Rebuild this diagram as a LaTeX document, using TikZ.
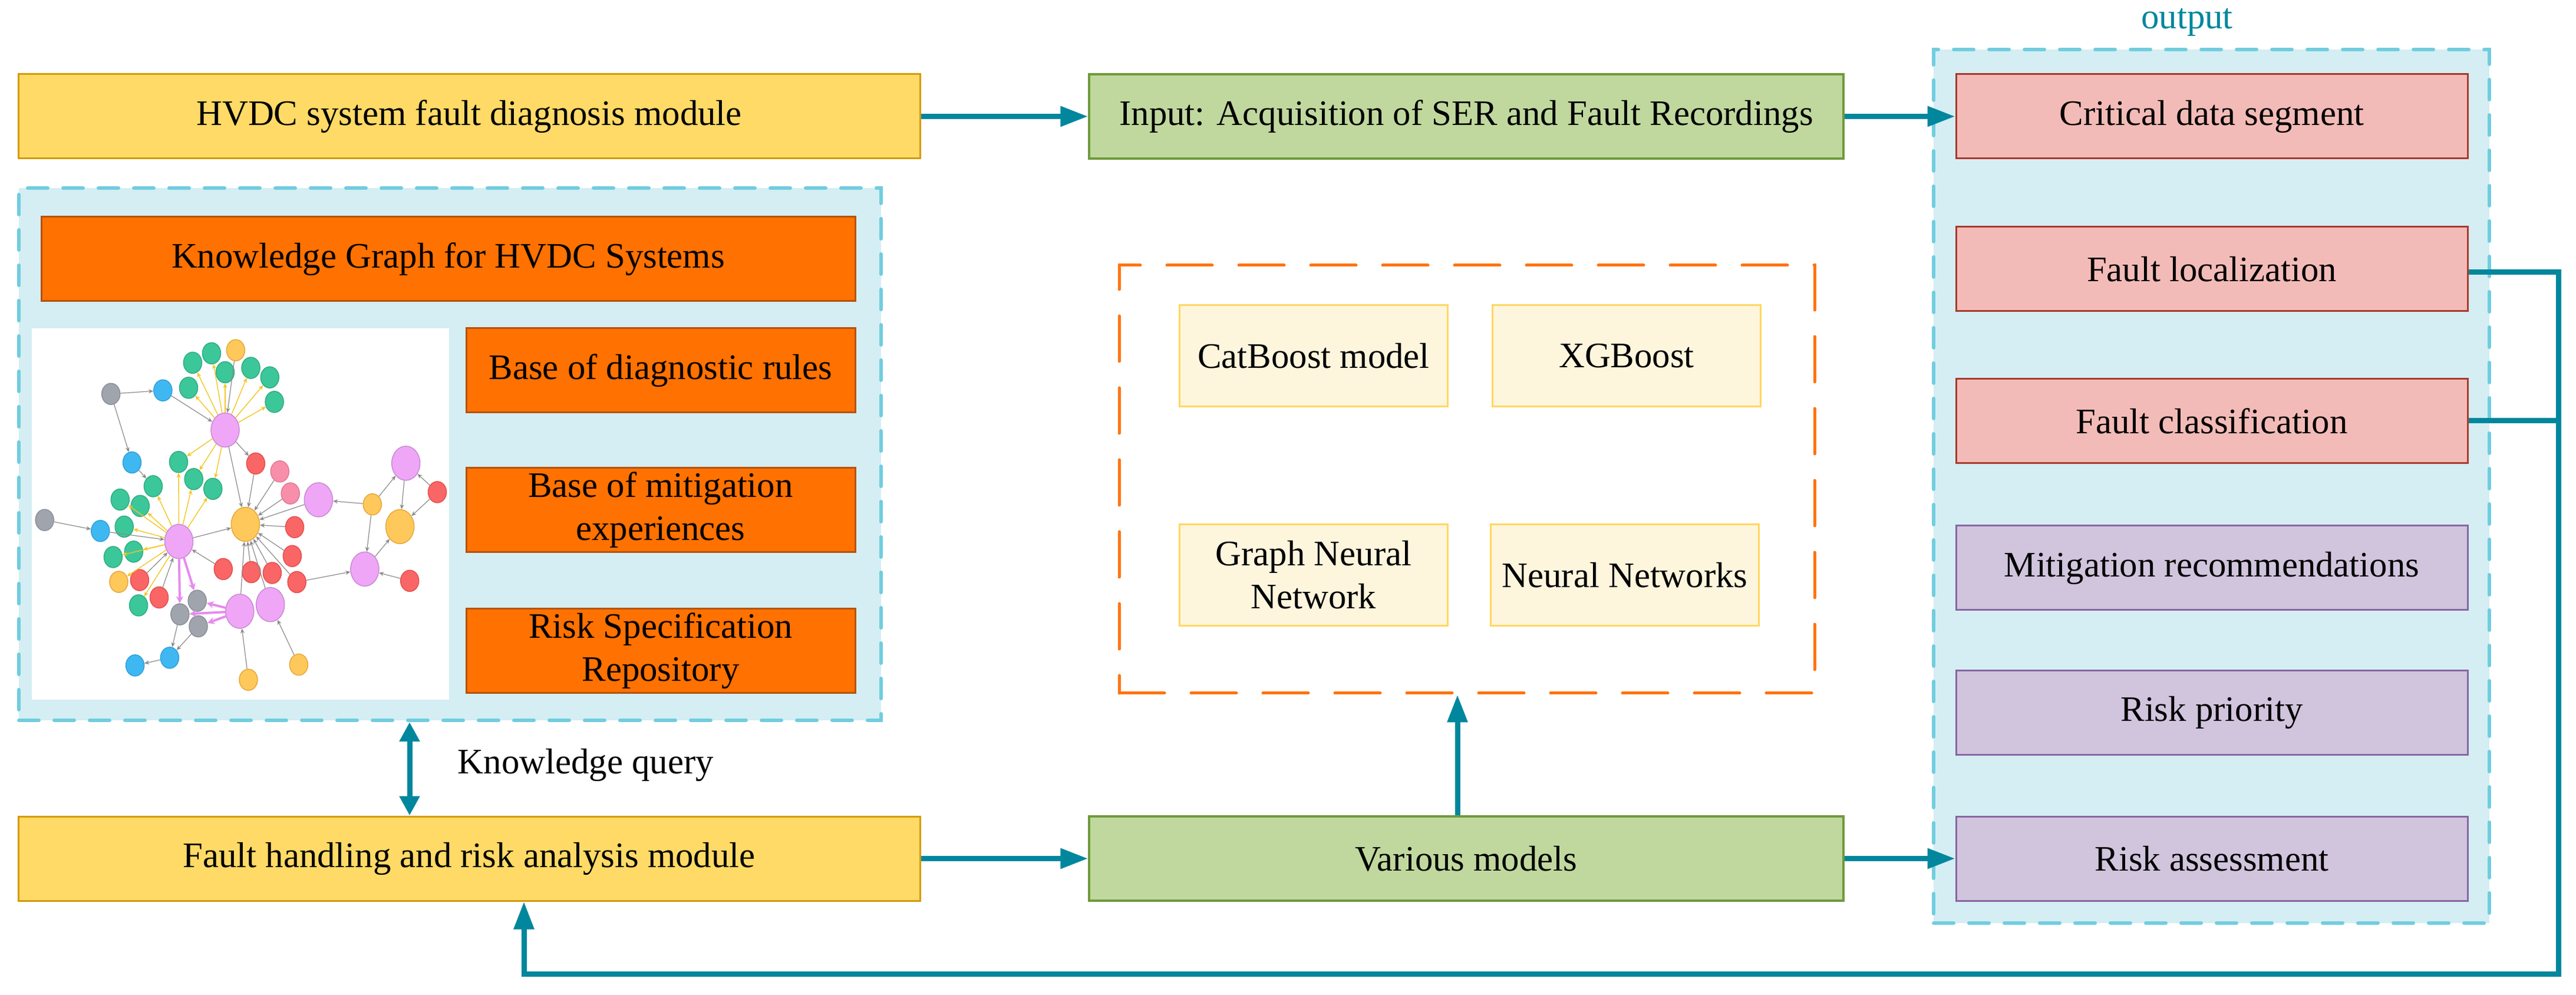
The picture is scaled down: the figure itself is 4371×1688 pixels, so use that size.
\documentclass[tikz,border=0pt]{standalone}
\usepackage{fontspec}
\setmainfont{Liberation Serif}
\usetikzlibrary{arrows.meta,shapes.geometric}
\definecolor{arrowc}{HTML}{00879D}
\definecolor{yfill}{HTML}{FFDA66}
\definecolor{ydraw}{HTML}{D39B0B}
\definecolor{gfill}{HTML}{C0D89E}
\definecolor{gdraw}{HTML}{6F9A3B}
\definecolor{kgfill}{HTML}{D4EEF3}
\definecolor{kgdash}{HTML}{71CDDF}
\definecolor{ofill}{HTML}{FF7100}
\definecolor{odraw}{HTML}{B5520E}
\definecolor{rfill}{HTML}{F3BBB7}
\definecolor{rdraw}{HTML}{A93A2E}
\definecolor{pfill}{HTML}{D1C4DD}
\definecolor{pdraw}{HTML}{8866A3}
\definecolor{mfill}{HTML}{FEF5DD}
\definecolor{mdraw}{HTML}{FFD75E}
\definecolor{odash}{HTML}{FF7410}
% graph colours
\definecolor{kgreen}{HTML}{3CC79A}
\definecolor{kgreenD}{HTML}{2FAE80}
\definecolor{korange}{HTML}{FFC85A}
\definecolor{korangeD}{HTML}{E6A83A}
\definecolor{kpinkn}{HTML}{EFA6F6}
\definecolor{kpinknD}{HTML}{C98AD5}
\definecolor{kblue}{HTML}{3FB8F2}
\definecolor{kblueD}{HTML}{2EA1DB}
\definecolor{kgrey}{HTML}{A0A4AC}
\definecolor{kgreyD}{HTML}{8B9098}
\definecolor{kred}{HTML}{FA6565}
\definecolor{kredD}{HTML}{E55050}
\definecolor{klpink}{HTML}{F78EAA}
\definecolor{klpinkD}{HTML}{E47796}
\definecolor{kedge}{HTML}{8A8A8A}
\definecolor{kyel}{HTML}{F3C623}
\definecolor{kpe}{HTML}{E78BEF}
\tikzset{
 box/.style={draw, line width=0.3mm, inner sep=0pt, align=center, font=\fontsize{17.3}{20.8}\selectfont, minimum height=14.3mm},
 ybox/.style={box, fill=yfill, draw=ydraw},
 gbox/.style={box, fill=gfill, draw=gdraw, line width=0.35mm},
 obox/.style={box, fill=ofill, draw=odraw},
 rbox/.style={box, fill=rfill, draw=rdraw, minimum width=86.8mm},
 pbox/.style={box, fill=pfill, draw=pdraw, minimum width=86.8mm},
 mbox/.style={box, fill=mfill, draw=mdraw, minimum width=45.5mm, minimum height=17.2mm},
 kgframe/.style={draw=kgdash, fill=kgfill, line width=0.6mm, dash pattern=on 3.4mm off 2.6mm, line cap=round, inner sep=0pt},
 oframe/.style={draw=odash, line width=0.5mm, dash pattern=on 7.7mm off 4.5mm, line cap=round, inner sep=0pt},
 conn/.style={draw=arrowc, line width=0.9mm, -{Triangle[length=4.7mm,width=3.3mm]}},
 dconn/.style={draw=arrowc, line width=0.9mm, {Triangle[length=3.3mm,width=3.3mm]}-{Triangle[length=3.3mm,width=3.3mm]}},
 plainc/.style={draw=arrowc, line width=0.9mm},
 lbl/.style={inner sep=0pt, font=\fontsize{17.3}{20.8}\selectfont},
 kn/.style={ellipse, inner sep=0pt, minimum width=3.1mm, minimum height=3.6mm, line width=0.15mm},
 kbig/.style={kn, minimum width=4.8mm, minimum height=5.8mm},
 cgr/.style={fill=kgreen, draw=kgreenD},
 cor/.style={fill=korange, draw=korangeD},
 cpk/.style={fill=kpinkn, draw=kpinknD},
 cbl/.style={fill=kblue, draw=kblueD},
 cgy/.style={fill=kgrey, draw=kgreyD},
 crd/.style={fill=kred, draw=kredD},
 clp/.style={fill=klpink, draw=klpinkD},
 ke/.style={draw=kedge, line width=0.12mm, -{Stealth[length=0.8mm,width=0.7mm]}},
 ky/.style={draw=kyel, line width=0.14mm, -{Stealth[length=0.8mm,width=0.7mm]}},
 kp/.style={draw=kpe, line width=0.4mm, -{Stealth[length=1.2mm,width=1.2mm]}},
}
\begin{document}
\begin{tikzpicture}[x=0.1mm, y=-0.1mm]
\useasboundingbox (0,0) rectangle (4371,1688);

% ---------- containers ----------
\node[kgframe, minimum width=146.3mm, minimum height=90.3mm] (kg) at (763.5,770.5) {};
\node[kgframe, minimum width=94.3mm, minimum height=148.2mm] (outf) at (3752.5,825) {};
\node[oframe, minimum width=118mm, minimum height=72.6mm] (models) at (2489,813) {};
\node[lbl, text=arrowc] (outlbl) at (3711,38) {output};

% ---------- main row boxes ----------
\node[ybox, minimum width=153mm] (hvdc) at (796,197.5) {HVDC system fault diagnosis module};
\node[gbox, minimum width=128mm] (input) at (2488,197.5) {Input: Acquisition of SER and Fault Recordings};
\node[ybox, minimum width=153mm] (fh) at (796,1456.5) {Fault handling and risk analysis module};
\node[gbox, minimum width=128mm] (various) at (2488,1456.5) {Various models};

% ---------- knowledge graph block ----------
\node[obox, minimum width=138.1mm] (kgt) at (760.5,439.5) {Knowledge Graph for HVDC Systems};
\node[fill=white, minimum width=70.8mm, minimum height=63mm, inner sep=0pt] (img) at (408,872) {};
\node[obox, minimum width=66mm] (diag) at (1121,628.5) {Base of diagnostic rules};
\node[obox, minimum width=66mm] (mitb) at (1121,865.5) {Base of mitigation\\experiences};
\node[obox, minimum width=66mm] (riskrep) at (1121,1104) {Risk Specification\\Repository};

% ---------- model boxes ----------
\node[mbox] (cat) at (2229,604) {CatBoost model};
\node[mbox] (xgb) at (2760,604) {XGBoost};
\node[mbox] (gnn) at (2229,975.5) {Graph Neural\\Network};
\node[mbox] (nn) at (2757,975.5) {Neural Networks};

% ---------- output boxes ----------
\node[rbox] (crit) at (3753,197.5) {Critical data segment};
\node[rbox] (floc) at (3753,456.5) {Fault localization};
\node[rbox] (fcls) at (3753,714) {Fault classification};
\node[pbox] (mrec) at (3753,963.5) {Mitigation recommendations};
\node[pbox] (rpri) at (3753,1208.5) {Risk priority};
\node[pbox] (rass) at (3753,1456.5) {Risk assessment};

% ---------- connectors ----------
\draw[conn] (hvdc.east) -- (input.west);
\draw[conn] (input.east) -- (crit.west);
\draw[conn] (fh.east) -- (various.west);
\draw[conn] (various.east) -- (rass.west);
\draw[conn] ([xshift=-1.5mm]various.north) -- ([xshift=-1.5mm]various.north |- models.south);
\coordinate (kq) at (695,0);
\draw[dconn] (kg.south -| kq) -- (fh.north -| kq);
\node[lbl, anchor=west] (kqt) at (776,1298) {Knowledge query};
\coordinate (fbR) at (4341,1652);
\coordinate (fbL) at (889,1652);
\draw[conn] ([yshift=-0.55mm]floc.east) -| (fbR) -- (fbL) -- (fh.south -| fbL);
\draw[plainc] (fcls.east) -- (fcls.east -| fbR);

% ---------- knowledge graph drawing ----------
\begin{scope}
\node[kn,cgr] (G1) at (326.9,615.4) {};
\node[kn,cgr] (G2) at (359.0,599.4) {};
\node[kn,cor] (O1) at (399.9,594.2) {};
\node[kn,cgr] (G3) at (382.0,631.5) {};
\node[kn,cgr] (G4) at (425.6,624.1) {};
\node[kn,cgr] (G5) at (457.8,640.2) {};
\node[kn,cgr] (G6) at (465.6,681.8) {};
\node[kn,cgr] (G7) at (320.0,657.9) {};
\node[kn,cgy] (Y1) at (188.2,668.3) {};
\node[kn,cbl] (B1) at (276.4,662.3) {};
\node[kbig,cpk] (P1) at (382.0,729.5) {};
\node[kn,cgr] (G8) at (303.0,783.7) {};
\node[kn,cgr] (G9) at (328.7,812.8) {};
\node[kn,cgr] (G10) at (361.3,829.3) {};
\node[kn,crd] (R1) at (433.9,786.3) {};
\node[kn,clp] (L1) at (474.8,799.8) {};
\node[kn,clp] (L2) at (492.7,837.1) {};
\node[kbig,cpk] (P2) at (540.4,847.9) {};
\node[kn,cor] (O2) at (631.8,855.7) {};
\node[kbig,cpk] (P3) at (688.7,785.9) {};
\node[kn,crd] (R2) at (742.0,834.9) {};
\node[kbig,cor] (O3) at (678.6,893.4) {};
\node[kn,cbl] (B2) at (224.0,784.6) {};
\node[kn,cgr] (G11) at (259.9,824.9) {};
\node[kn,cgr] (G12) at (203.8,847.5) {};
\node[kn,cgr] (G13) at (237.8,858.3) {};
\node[kn,cgr] (G14) at (210.7,893.4) {};
\node[kn,cgr] (G15) at (226.8,935.9) {};
\node[kn,cgr] (G16) at (191.9,945.0) {};
\node[kn,cgy] (Y2) at (75.7,882.2) {};
\node[kn,cbl] (B3) at (170.3,900.8) {};
\node[kbig,cpk] (P4) at (303.5,918.6) {};
\node[kbig,cor] (O4) at (416.4,889.5) {};
\node[kn,crd] (R3) at (500.0,894.3) {};
\node[kn,crd] (R4) at (495.9,943.3) {};
\node[kn,crd] (R5) at (378.8,965.4) {};
\node[kn,crd] (R6) at (426.5,970.6) {};
\node[kn,crd] (R7) at (461.9,972.0) {};
\node[kn,crd] (R8) at (503.7,987.5) {};
\node[kbig,cpk] (P5) at (618.9,965.4) {};
\node[kn,crd] (R9) at (695.2,985.4) {};
\node[kn,cor] (O5) at (201.5,987.1) {};
\node[kn,crd] (R10) at (236.9,984.1) {};
\node[kn,crd] (R11) at (270.0,1013.6) {};
\node[kn,cgr] (G17) at (235.1,1027.0) {};
\node[kn,cgy] (Y3) at (334.7,1019.2) {};
\node[kn,cgy] (Y4) at (305.3,1042.2) {};
\node[kn,cgy] (Y5) at (336.5,1062.6) {};
\node[kbig,cpk] (P6) at (406.8,1037.0) {};
\node[kbig,cpk] (P7) at (458.7,1025.7) {};
\node[kn,cbl] (B4) at (287.9,1115.9) {};
\node[kn,cbl] (B5) at (229.1,1128.9) {};
\node[kn,cor] (O6) at (421.5,1153.2) {};
\node[kn,cor] (O7) at (506.9,1127.6) {};
% yellow edges
\foreach \t in {G1,G2,G3,G4,G5,G6,G7,G8,G9,G10} \draw[ky] (P1) -- (\t);
\foreach \t in {G8,G9,G10,G11,G12,G13,G14,G15,G16,G17,O5} \draw[ky] (P4) -- (\t);
% grey edges
\draw[ke] (Y1) -- (B1);
\draw[ke] (Y1) -- (B2);
\draw[ke] (B1) -- (P1);
\draw[ke] (O1) -- (P1);
\draw[ke] (P1) -- (O4);
\draw[ke] (P1) -- (R1);
\foreach \s in {R1,L1,L2,P2,R3,R4,R6,R7,R8,P6,P7} \draw[ke] (\s) -- (O4);
\draw[ke] (P4) -- (O4);
\draw[ke] (R5) -- (P4);
\draw[ke] (B2) -- (G11);
\draw[ke] (Y2) -- (B3);
\draw[ke] (B3) -- (P4);
\draw[ke] (R10) -- (P4);
\draw[ke] (R11) -- (P4);
\draw[ke] (O2) -- (P2);
\draw[ke] (O2) -- (P3);
\draw[ke] (O2) -- (P5);
\draw[ke] (P3) -- (O3);
\draw[ke] (R2) -- (P3);
\draw[ke] (R2) -- (O3);
\draw[ke] (P5) -- (O3);
\draw[ke] (R9) -- (P5);
\draw[ke] (R8) -- (P5);
\draw[ke] (O6) -- (P6);
\draw[ke] (O7) -- (P7);
\draw[ke] (Y4) -- (B4);
\draw[ke] (Y5) -- (B4);
\draw[ke] (B4) -- (B5);
% pink edges
\draw[kp] (P4) -- (Y4);
\draw[kp] (P4) -- (Y3);
\draw[kp] (P6) -- (Y3);
\draw[kp] (P6) -- (Y4);
\draw[kp] (P6) -- (Y5);
\end{scope}
\end{tikzpicture}
\end{document}
